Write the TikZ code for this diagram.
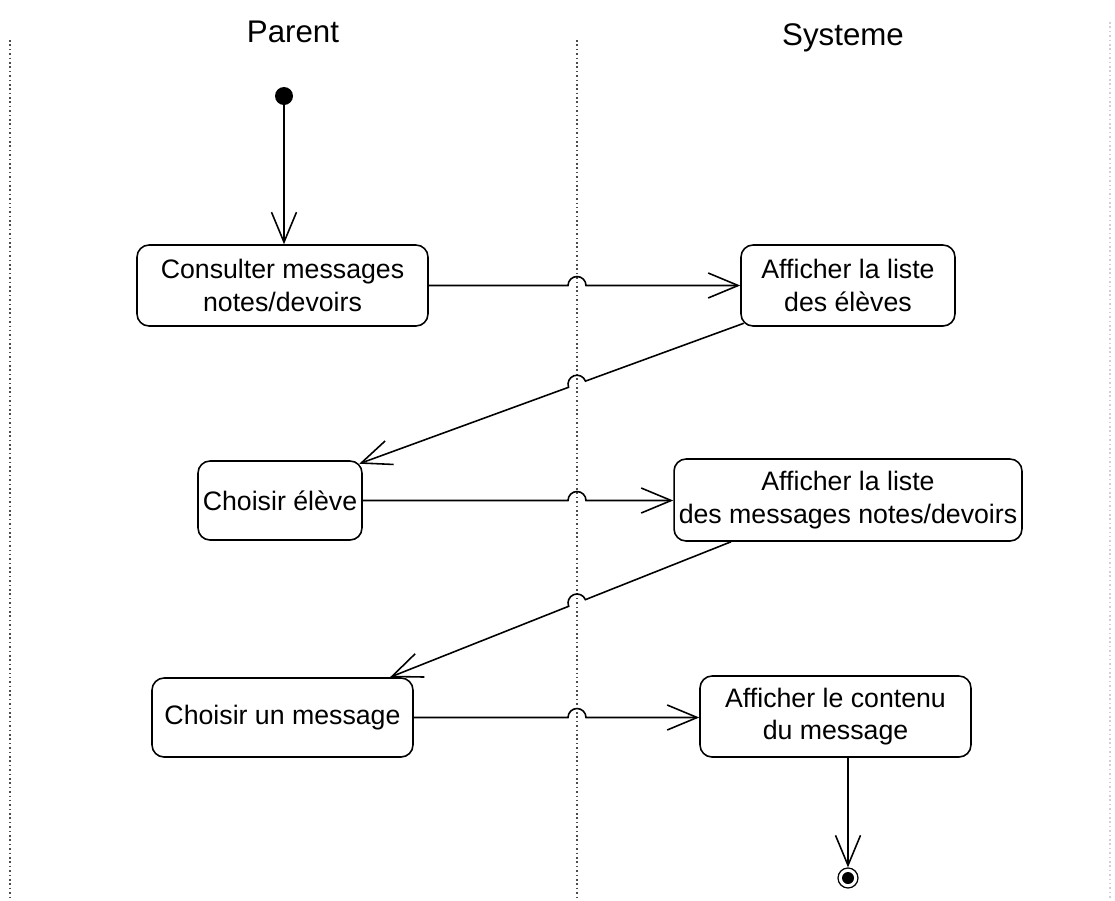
\documentclass[tikz,border=0pt]{standalone}
\usepackage{fontspec}
\setmainfont{Liberation Sans}
\usetikzlibrary{arrows.meta,calc}
\tikzset{
  actbox/.style={draw, line width=0.9pt, rounded corners=0.24cm, align=center,
    font=\fontsize{15.2}{18.5}\selectfont, inner sep=0pt},
  flow/.style={draw, line width=0.9pt, -{Straight Barb[length=0.6cm,width=0.5cm,line width=0.9pt]}},
  plain/.style={draw, line width=0.9pt},
  lane/.style={draw=black!70, line width=0.8pt, dash pattern=on 0.9pt off 1.6pt},
  lanefaint/.style={draw=black!18, line width=0.8pt, dash pattern=on 0.9pt off 1.6pt},
  title/.style={font=\fontsize{17.8}{20}\selectfont},
}
\begin{document}
\begin{tikzpicture}[x=0.02cm,y=0.02cm]
\useasboundingbox (0,0) rectangle (1115,-900);
% swimlane separators
\coordinate (L1) at (10,-40);  \coordinate (L2) at (10,-900);
\coordinate (M1) at (577,-40); \coordinate (M2) at (577,-900);
\coordinate (R1) at (1110,-22); \coordinate (R2) at (1110,-900);
\draw[lane] (L1) -- (L2);
\draw[lane] (M1) -- (M2);
\draw[lanefaint] (R1) -- (R2);
% titles
\node[title] (tparent) at (293,-32) {Parent};
\node[title] (tsys) at (843,-38) {Systeme};
% initial node
\node[circle, fill=black, minimum size=0.36cm, inner sep=0pt] (init) at (284,-96) {};
% activities
\node[actbox, minimum width=5.82cm, minimum height=1.62cm] (b1) at (282.5,-285.5) {Consulter messages\\notes/devoirs};
\node[actbox, minimum width=4.28cm, minimum height=1.62cm] (b2) at (848,-285.5) {Afficher la liste\\des élèves};
\node[actbox, minimum width=3.28cm, minimum height=1.58cm] (b3) at (280,-500.5) {Choisir élève};
\node[actbox, minimum width=6.96cm, minimum height=1.64cm] (b4) at (848,-500) {Afficher la liste\\des messages notes/devoirs};
\node[actbox, minimum width=5.22cm, minimum height=1.58cm] (b5) at (282.5,-717.5) {Choisir un message};
\node[actbox, minimum width=5.42cm, minimum height=1.62cm] (b6) at (835.5,-716.5) {Afficher le contenu\\du message};
% final node
\node[circle, draw, line width=0.7pt, minimum size=0.4cm, inner sep=0pt] (fin) at (848,-878) {};
\fill (fin.center) circle (0.12cm);
% initial arrow
\draw[flow] (init) -- (init |- b1.north);
% horizontal flows with jumps
\draw[flow] (b1.east) -- ($(b1.east -| M1)+(-0.18cm,0)$) arc[start angle=180,end angle=0,radius=0.18cm] -- (b1.east -| b2.west);
\draw[flow] (b3.east) -- ($(b3.east -| M1)+(-0.18cm,0)$) arc[start angle=180,end angle=0,radius=0.18cm] -- (b3.east -| b4.west);
\draw[flow] (b5.east) -- ($(b5.east -| M1)+(-0.18cm,0)$) arc[start angle=180,end angle=0,radius=0.18cm] -- (b5.east -| b6.west);
% diagonal flows with jumps
\coordinate (s1) at ($(b2.south west)+(0.07cm,0.07cm)$);
\coordinate (e1) at ($(b3.north east)+(-0.07cm,-0.07cm)$);
\coordinate (c1) at (intersection of s1--e1 and M1--M2);
\draw[flow] let \p1=($(s1)-(e1)$), \n1={atan2(\y1,\x1)} in
  (s1) -- ($(c1)!0.18cm!(s1)$) arc[start angle=\n1, end angle=\n1+180, radius=0.18cm] -- (e1);
\coordinate (s2) at ($(b4.south)+(-2.34cm,0)$);
\coordinate (e2) at ($(b5.north)+(2.15cm,0)$);
\coordinate (c2) at (intersection of s2--e2 and M1--M2);
\draw[flow] let \p1=($(s2)-(e2)$), \n1={atan2(\y1,\x1)} in
  (s2) -- ($(c2)!0.18cm!(s2)$) arc[start angle=\n1, end angle=\n1+180, radius=0.18cm] -- (e2);
% final arrow
\draw[flow] (b6.south -| fin) -- (fin.north);
\end{tikzpicture}
\end{document}
